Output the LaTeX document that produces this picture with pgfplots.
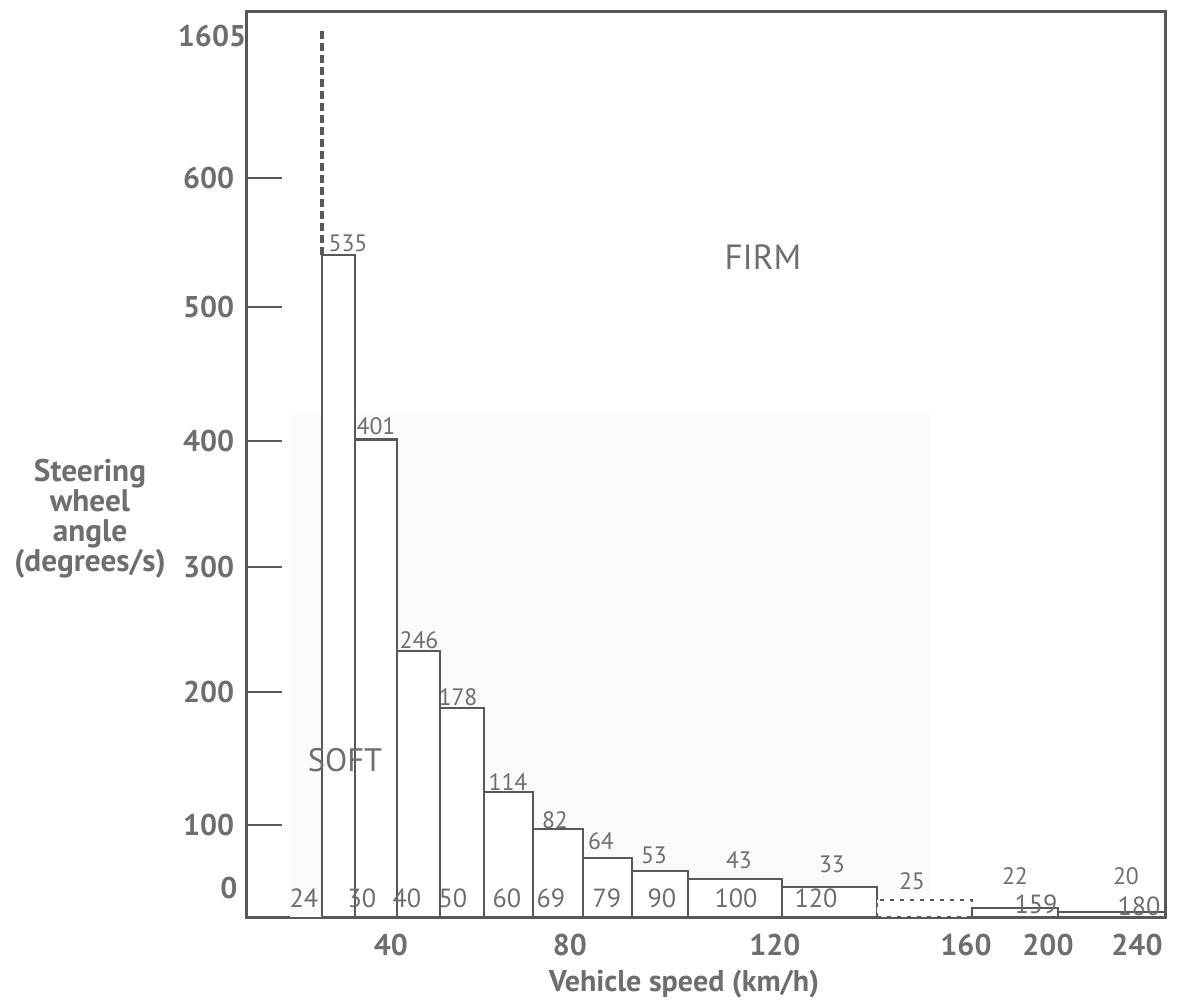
\documentclass[border=0pt]{standalone}
\usepackage{pgfplots}
\pgfplotsset{compat=1.18}
\usepackage{fontspec}
\setmainfont{PT Sans}
\setsansfont{PT Sans}
\definecolor{tg}{RGB}{110,110,110}
\definecolor{lg}{RGB}{88,88,88}

% piecewise-linear display scale of the scanned chart (value/position knots)
\def\xknots{0/142,14/247,24/322,30/355,40/397,50/440,60/484,69/533,79/583,90/632,100/688,120/782,139/877,159/972,180/1058,240/1140,258/1165,300/1223}
\def\yknots{0/0,20/5,22/9,25/17,33/30,43/38,53/46,64/59,82/88,100/92,114/125,178/209,200/225,246/266,300/350,400/476,500/610,535/662,600/739,1605/887,2000/945}

\makeatletter
\def\pwl@split#1/#2\@nil{\def\pwl@cx{#1}\def\pwl@cy{#2}}
\newcommand\PWL[2]{%
  \pgfmathfloatparsenumber{#1}%
  \pgfmathfloattofixed{\pgfmathresult}%
  \let\pwl@v\pgfmathresult
  \let\pwl@px\relax
  \let\pwl@res\@empty
  \@for\pwl@item:=#2\do{%
    \expandafter\pwl@split\pwl@item\@nil
    \ifx\pwl@px\relax\else
      \ifx\pwl@res\@empty
        \ifdim\pwl@v pt<\pwl@cx pt
          \pgfmathsetmacro\pwl@res{\pwl@py+(\pwl@v-(\pwl@px))*(\pwl@cy-(\pwl@py))/(\pwl@cx-(\pwl@px))}%
        \fi
      \fi
    \fi
    \let\pwl@px\pwl@cx
    \let\pwl@py\pwl@cy
  }%
  \ifx\pwl@res\@empty\let\pwl@res\pwl@py\fi
  \let\pgfmathresult\pwl@res
}
\makeatother

% text node at a position given in picture pixels
\newcommand\lab[4][]{\node[text=tg,inner sep=0pt,#1] at (rel axis cs:{(#2-247)/918},{(917-#3)/905}) {#4};}

\begin{document}
\begin{tikzpicture}
\begin{axis}[
  x=0.4pt, y=0.4pt,
  x coord trafo/.code={\PWL{#1}{\xknots}},
  y coord trafo/.code={\PWL{#1}{\yknots}},
  xmin=14, xmax=258, ymin=0, ymax=1728,
  axis line style={draw=lg, line width=1.2pt},
  xtick=\empty,
  ytick={100,200,300,400,500,600},
  yticklabels={100,200,300,400,500,600},
  ytick pos=left, tick align=inside, major tick length=14pt,
  tick style={draw=lg, line width=0.8pt},
  yticklabel style={font=\bfseries\fontsize{12}{12}\selectfont, text=tg, anchor=east, xshift=-1.6pt},
  clip=false,
]
\fill[black!2] (rel axis cs:0.0468,0) rectangle (rel axis cs:0.744,0.5547);

% bars: left edge speed (km/h), height (degrees/s)
\addplot[ybar interval, draw=lg, fill=white, line width=1pt] coordinates {
  (24,535) (30,401) (40,246) (50,178) (60,114) (69,82) (79,64)
  (90,53) (100,43) (120,33) (139,33)};
\addplot[ybar interval, draw=lg, fill=white, line width=1pt, dash pattern=on 1.5pt off 2.5pt] coordinates {
  (139,25) (159,25)};
\addplot[ybar interval, draw=lg, fill=white, line width=1pt] coordinates {
  (159,22) (180,20) (258,20)};
\addplot[draw=lg, line width=1.4pt, dash pattern=on 3.2pt off 1.6pt] coordinates {(24,535) (24,1605)};

% values on top of bars
\lab[font=\fontsize{9.5}{9.5}\selectfont]{348}{243}{535}
\lab[font=\fontsize{9.5}{9.5}\selectfont]{376}{426}{401}
\lab[font=\fontsize{9.5}{9.5}\selectfont]{419}{640}{246}
\lab[font=\fontsize{9.5}{9.5}\selectfont]{458}{697}{178}
\lab[font=\fontsize{9.5}{9.5}\selectfont]{508}{782}{114}
\lab[font=\fontsize{9.5}{9.5}\selectfont]{555}{820}{82}
\lab[font=\fontsize{9.5}{9.5}\selectfont]{601}{841}{64}
\lab[font=\fontsize{9.5}{9.5}\selectfont]{654}{855}{53}
\lab[font=\fontsize{9.5}{9.5}\selectfont]{739}{860}{43}
\lab[font=\fontsize{9.5}{9.5}\selectfont]{832}{864}{33}
\lab[font=\fontsize{9.5}{9.5}\selectfont]{912}{881}{25}
\lab[font=\fontsize{9.5}{9.5}\selectfont]{1015}{876}{22}
\lab[font=\fontsize{9.5}{9.5}\selectfont]{1126}{876}{20}

% speeds at the foot of the bars
\lab[font=\fontsize{10.5}{10.5}\selectfont]{304}{898}{24}
\lab[font=\fontsize{10.5}{10.5}\selectfont]{362}{898}{30}
\lab[font=\fontsize{10.5}{10.5}\selectfont]{407}{898}{40}
\lab[font=\fontsize{10.5}{10.5}\selectfont]{453}{898}{50}
\lab[font=\fontsize{10.5}{10.5}\selectfont]{507}{898}{60}
\lab[font=\fontsize{10.5}{10.5}\selectfont]{551}{898}{69}
\lab[font=\fontsize{10.5}{10.5}\selectfont]{607}{898}{79}
\lab[font=\fontsize{10.5}{10.5}\selectfont]{662}{898}{90}
\lab[font=\fontsize{10.5}{10.5}\selectfont]{736}{898}{100}
\lab[font=\fontsize{10.5}{10.5}\selectfont]{816}{898}{120}
\lab[font=\fontsize{10.5}{10.5}\selectfont]{1036}{904}{159}
\lab[font=\fontsize{10.5}{10.5}\selectfont]{1139}{906}{180}

% x axis numbers
\lab[font=\bfseries\fontsize{12}{12}\selectfont]{391}{945}{40}
\lab[font=\bfseries\fontsize{12}{12}\selectfont]{570}{945}{80}
\lab[font=\bfseries\fontsize{12}{12}\selectfont]{775}{945}{120}
\lab[font=\bfseries\fontsize{12}{12}\selectfont]{966}{945}{160}
\lab[font=\bfseries\fontsize{12}{12}\selectfont]{1048}{945}{200}
\lab[font=\bfseries\fontsize{12}{12}\selectfont]{1137}{945}{240}
% extra y numbers
\lab[font=\bfseries\fontsize{12}{12}\selectfont]{212}{36}{1605}
\lab[font=\bfseries\fontsize{12}{12}\selectfont]{229}{888}{0}

% titles
\lab[font=\bfseries\fontsize{12}{12}\selectfont]{684}{984}{Vehicle speed (km/h)}
\lab[font=\bfseries\fontsize{12.5}{12}\selectfont, align=center]{90}{519}{Steering\\wheel\\angle\\(degrees/s)}
\lab[font=\fontsize{14}{14}\selectfont]{763}{257}{FIRM}
\lab[font=\fontsize{13}{13}\selectfont]{345}{760}{SOFT}

\coordinate (BL) at (rel axis cs:-0.26906,-0.09724);
\coordinate (TR) at (rel axis cs:1.01525,1.01326);
\end{axis}
\pgfresetboundingbox
\useasboundingbox (BL) rectangle (TR);
\end{tikzpicture}
\end{document}
